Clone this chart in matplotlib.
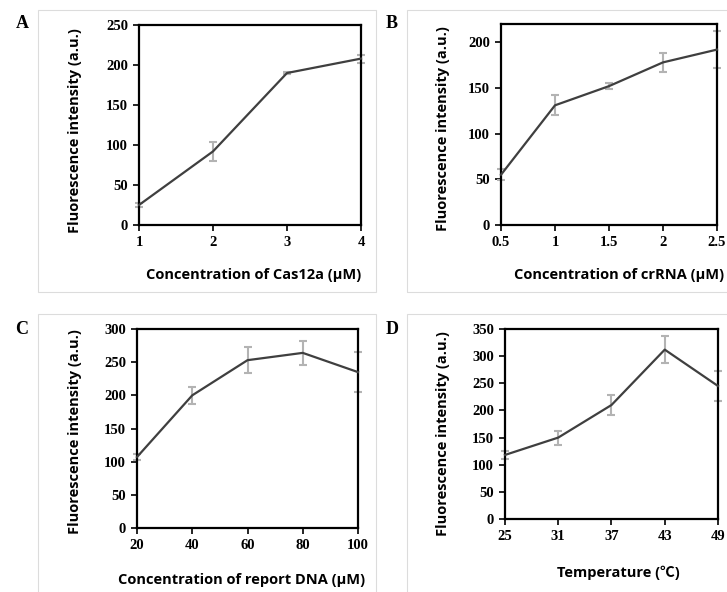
import matplotlib
matplotlib.use("Agg")
import matplotlib.pyplot as plt
from matplotlib.patches import Rectangle

# Data
cas12a_conc = [1, 2, 3, 4]
cas12a_int = [25, 92, 190, 208]
cas12a_err = [3, 12, 1, 5]

crrna_conc = [0.5, 1, 1.5, 2, 2.5]
crrna_int = [55, 131, 152, 178, 192]
crrna_err = [6, 11, 3, 10, 20]

report_conc = [20, 40, 60, 80, 100]
report_int = [107, 200, 253, 264, 235]
report_err = [5, 13, 20, 18, 30]

temp = [25, 31, 37, 43, 49]
temp_int = [118, 150, 210, 312, 245]
temp_err = [8, 13, 18, 25, 28]

W, H = 727, 592
fig = plt.figure(figsize=(W / 100, H / 100), dpi=100)

TICK_FONT = dict(family="Liberation Serif", weight="bold", size=10.5)
LABEL_FONT = dict(family=["Open Sans", "Noto Sans CJK SC", "DejaVu Sans"],
                  weight="bold", size=10.5)
LINE_C = "#3f3f3f"
ERR_C = "#b3b3b3"


def px_axes(left, right, top, bottom):
    return fig.add_axes([left / W, 1 - bottom / H, (right - left) / W, (bottom - top) / H])


def px_text(x, y, s, **kw):
    return fig.text(x / W, 1 - y / H, s, ha="center", va="center", **kw)


def box(left, top, right, bottom):
    fig.patches.append(Rectangle((left / W, 1 - bottom / H), (right - left) / W,
                                 (bottom - top) / H, transform=fig.transFigure,
                                 fill=False, ec="#dcdcdc", lw=0.8, zorder=0))


panels = [
    # letter, x, y, err, xlim, ylim, yticks, xlabel,
    # axes px, letter px, xlabel px, ylabel px
    ("A", cas12a_conc, cas12a_int, cas12a_err, (1, 4), (0, 250), range(0, 251, 50),
     "Concentration of Cas12a (μM)", (139, 361, 25, 225), (22, 24), (254, 275), (75, 131)),
    ("B", crrna_conc, crrna_int, crrna_err, (0.5, 2.5), (0, 220), range(0, 201, 50),
     "Concentration of crRNA (μM)", (501, 717, 24, 225), (392, 24), (619, 275), (443, 129)),
    ("C", report_conc, report_int, report_err, (20, 100), (0, 300), range(0, 301, 50),
     "Concentration of report DNA (μM)", (137, 358, 329, 528), (22, 329), (242, 580), (75, 432)),
    ("D", temp, temp_int, temp_err, (25, 49), (0, 350), range(0, 351, 50),
     "Temperature (℃)", (505, 718, 329, 519), (392, 329), (618, 573), (443, 434)),
]

box(38, 10, 376, 292)
box(407, 10, 740, 292)
box(38, 314, 376, 600)
box(407, 314, 740, 600)

for letter, x, y, err, xlim, ylim, yticks, xlabel, apx, lpx, xlpx, ylpx in panels:
    ax = px_axes(*apx)
    ax.errorbar(x, y, yerr=err, fmt="none", ecolor=ERR_C, elinewidth=1.5,
                capsize=3, capthick=1.5, zorder=2, clip_on=False)
    ax.plot(x, y, color=LINE_C, lw=1.6, zorder=3, clip_on=False)
    ax.set_xlim(*xlim)
    ax.set_ylim(*ylim)
    ax.set_xticks(x)
    ax.set_xticklabels([f"{v:g}" for v in x], **TICK_FONT)
    ax.set_yticks(list(yticks))
    ax.set_yticklabels([str(v) for v in yticks], **TICK_FONT)
    for s in ax.spines.values():
        s.set_linewidth(1.6)
        s.set_color("black")
    ax.tick_params(direction="out", length=4, width=1.2, pad=4)
    px_text(*ylpx, "Fluorescence intensity (a.u.)", rotation=90, **LABEL_FONT)
    px_text(*xlpx, xlabel, **LABEL_FONT)
    px_text(*lpx, letter, family="Liberation Serif", weight="bold", size=13)

fig.savefig("out.png", dpi=100)
